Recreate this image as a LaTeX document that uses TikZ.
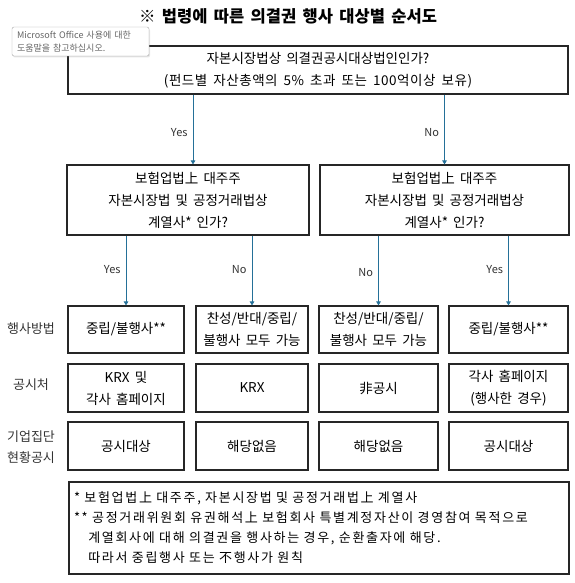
\documentclass[tikz,border=0pt]{standalone}
\usepackage{fontspec}
\setmainfont{Noto Sans CJK KR}[WordSpace=1.7]
\usetikzlibrary{arrows.meta,shadows}
\definecolor{arrowblue}{RGB}{36,112,152}

\begin{document}
\begin{tikzpicture}[x=1pt, y=-1pt,
    box/.style={draw=black!85, line width=1.1pt, align=center, inner sep=0pt,
        font=\fontsize{13.5}{22}\selectfont},
    arr/.style={draw=arrowblue, line width=0.9pt, -{Triangle[length=4pt,width=4.5pt]}},
    lbl/.style={font=\fontsize{11}{12}\selectfont, text=black!80, inner sep=5pt},
    rowlbl/.style={align=center, font=\fontsize{13}{21}\selectfont, text=black!80}]
    \useasboundingbox (0,0) rectangle (574,583);

    % 제목
    \node[font=\fontsize{16.5}{18}\selectfont\bfseries] (title) at (288,16) {※ 법령에 따른 의결권 행사 대상별 순서도};

    % 첫 번째 질문
    \node[box, minimum width=500pt, minimum height=48pt] (q1) at (318,70)
        {자본시장법상 의결권공시대상법인인가?\\{\addfontfeature{LetterSpace=4}(펀드별 자산총액의 5\% 초과 또는 100억이상 보유)}};

    % 두 번째 질문
    \node[box, minimum width=242pt, minimum height=70pt] (q2a) at (188,200)
        {보험업법上 대주주\\자본시장법 및 공정거래법상\\계열사* 인가?};
    \node[box, minimum width=249pt, minimum height=70pt] (q2b) at (444.5,200)
        {보험업법上 대주주\\자본시장법 및 공정거래법상\\계열사* 인가?};

    % 행사방법
    \node[box, minimum width=116pt, minimum height=47pt] (m1) at (126,329.5) {중립/불행사**};
    \node[box, minimum width=112pt, minimum height=47pt] (m2) at (252,329.5) {찬성/반대/중립/\\불행사 모두 가능};
    \node[box, minimum width=119pt, minimum height=47pt] (m3) at (378.5,329.5) {찬성/반대/중립/\\불행사 모두 가능};
    \node[box, minimum width=119pt, minimum height=47pt] (m4) at (508.5,329.5) {중립/불행사**};

    % 공시처
    \node[box, minimum width=116pt, minimum height=48pt] (d1) at (126,388) {KRX 및\\각사 홈페이지};
    \node[box, minimum width=112pt, minimum height=48pt] (d2) at (252,388) {KRX};
    \node[box, minimum width=119pt, minimum height=48pt] (d3) at (378.5,388) {非공시};
    \node[box, minimum width=119pt, minimum height=48pt] (d4) at (508.5,388) {각사 홈페이지\\(행사한 경우)};

    % 기업집단 현황공시
    \node[box, minimum width=116pt, minimum height=48pt] (g1) at (126,446) {공시대상};
    \node[box, minimum width=112pt, minimum height=48pt] (g2) at (252,446) {해당없음};
    \node[box, minimum width=119pt, minimum height=48pt] (g3) at (378.5,446) {해당없음};
    \node[box, minimum width=119pt, minimum height=48pt] (g4) at (508.5,446) {공시대상};

    % 행 제목
    \node[rowlbl] (l1) at (31,329) {행사방법};
    \node[rowlbl] (l2) at (31,385) {공시처};
    \node[rowlbl] (l3) at (31,447) {기업집단\\현황공시};

    % 주석
    \node[box, align=left, minimum width=500pt, minimum height=92pt, text width=490pt,
        font=\fontsize{13}{20}\selectfont\addfontfeature{LetterSpace=13}] (note) at (319,528)
        {* 보험업법上 대주주, 자본시장법 및 공정거래법上 계열사\\{}%
         ** 공정거래위원회 유권해석上 보험회사 특별계정자산이 경영참여 목적으로\\
         \hspace*{1.1em}계열회사에 대해 의결권을 행사하는 경우, 순환출자에 해당.\\
         \hspace*{1.1em}따라서 중립행사 또는 不행사가 원칙};

    % 화살표
    \draw[arr] ([xshift=5pt]q1.south -| q2a.north) -- node[lbl, left, pos=.55] (y1) {Yes} ([xshift=5pt]q2a.north);
    \draw[arr] (q1.south -| q2b.north) -- node[lbl, left, pos=.55] (n1) {No} (q2b.north);
    \draw[arr] (q2a.south -| m1.north) -- node[lbl, left, pos=.49] (y2) {Yes} (m1.north);
    \draw[arr] (q2a.south -| m2.north) -- node[lbl, left, pos=.49] (n2) {No} (m2.north);
    \draw[arr] (q2b.south -| m3.north) -- node[lbl, left, pos=.53] (n3) {No} (m3.north);
    \draw[arr] (q2b.south -| m4.north) -- node[lbl, left, pos=.49] (y3) {Yes} (m4.north);

    % 도움말 창
    \node[draw=black!35, fill=white, rounded corners=2pt, align=left, text width=127pt,
        minimum width=137pt, minimum height=29pt, inner sep=0pt, text=black!60,
        font=\fontsize{9}{12.5}\selectfont,
        drop shadow={opacity=0.2, shadow xshift=1pt, shadow yshift=-1.5pt}] (tip) at (80.5,41.5)
        {Microsoft Office 사용에 대한\\도움말을 참고하십시오.};
\end{tikzpicture}
\end{document}
